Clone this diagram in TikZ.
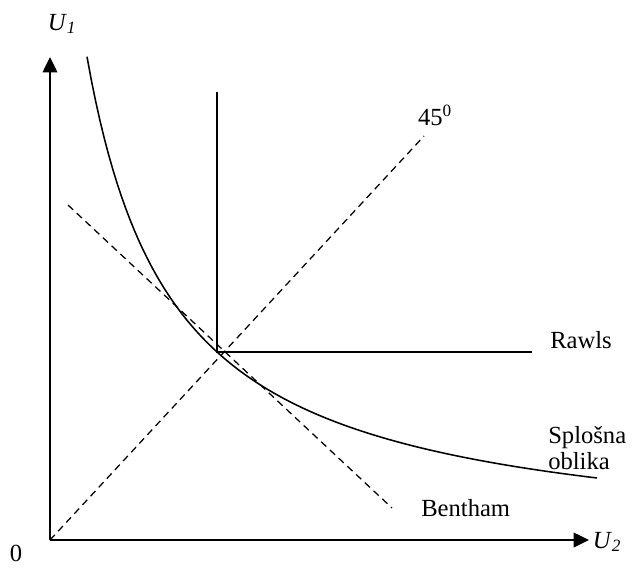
\documentclass[tikz,border=0pt]{standalone}
\usepackage{fontspec}
\setmainfont{Liberation Serif}
\usetikzlibrary{arrows.meta}

\begin{document}
\begin{tikzpicture}[x=0.025cm, y=-0.025cm,
  axis/.style={-{Triangle[length=11pt, width=10.5pt]}, line width=1.1pt},
  curve/.style={line width=1.1pt},
  dashline/.style={dash pattern=on 5pt off 3.5pt, line width=0.9pt},
  lbl/.style={font=\fontsize{17.5}{18}\selectfont, inner sep=0pt, align=left}
]
\useasboundingbox (0,0) rectangle (633,568);

%--- Axes ---
\coordinate (O) at (50,540);
\coordinate (ytop) at (50,57);
\coordinate (xend) at (589,540);
\draw[axis] (O) -- (ytop);
\draw[axis] (O) -- (xend);
\node[lbl] (u1) at (62,24) {\textit{U}\textsubscript{\textit{1}}};
\node[lbl] (u2) at (607,542) {\textit{U}\textsubscript{\textit{2}}};
\node[lbl] (zero) at (16,553) {0};

%--- 45 degree line ---
\coordinate (d45) at (424,136);
\draw[dashline] (O) -- (d45);
\node[lbl] (deg) at (435,115) {45\textsuperscript{0}};

%--- Bentham ---
\coordinate (b1) at (68,205);
\coordinate (b2) at (392,508);
\draw[dashline] (b1) -- (b2);
\node[lbl, anchor=west] (bentham) at (421,508) {Bentham};

%--- Rawls ---
\coordinate (E) at (217,352);
\coordinate (rtop) at (217,92);
\coordinate (rend) at (532,352);
\draw[curve] (rtop) -- (E) -- (rend);
\node[lbl, anchor=west] (rawls) at (550,340) {Rawls};

%--- General form ---
\draw[curve] plot[domain=37:547, samples=120]
  ({\x+50},{550-(207.4/(\x+50.2))*207.4});
\node[lbl, anchor=west] (splosna) at (548,448) {Splošna\\oblika};

\end{tikzpicture}
\end{document}
